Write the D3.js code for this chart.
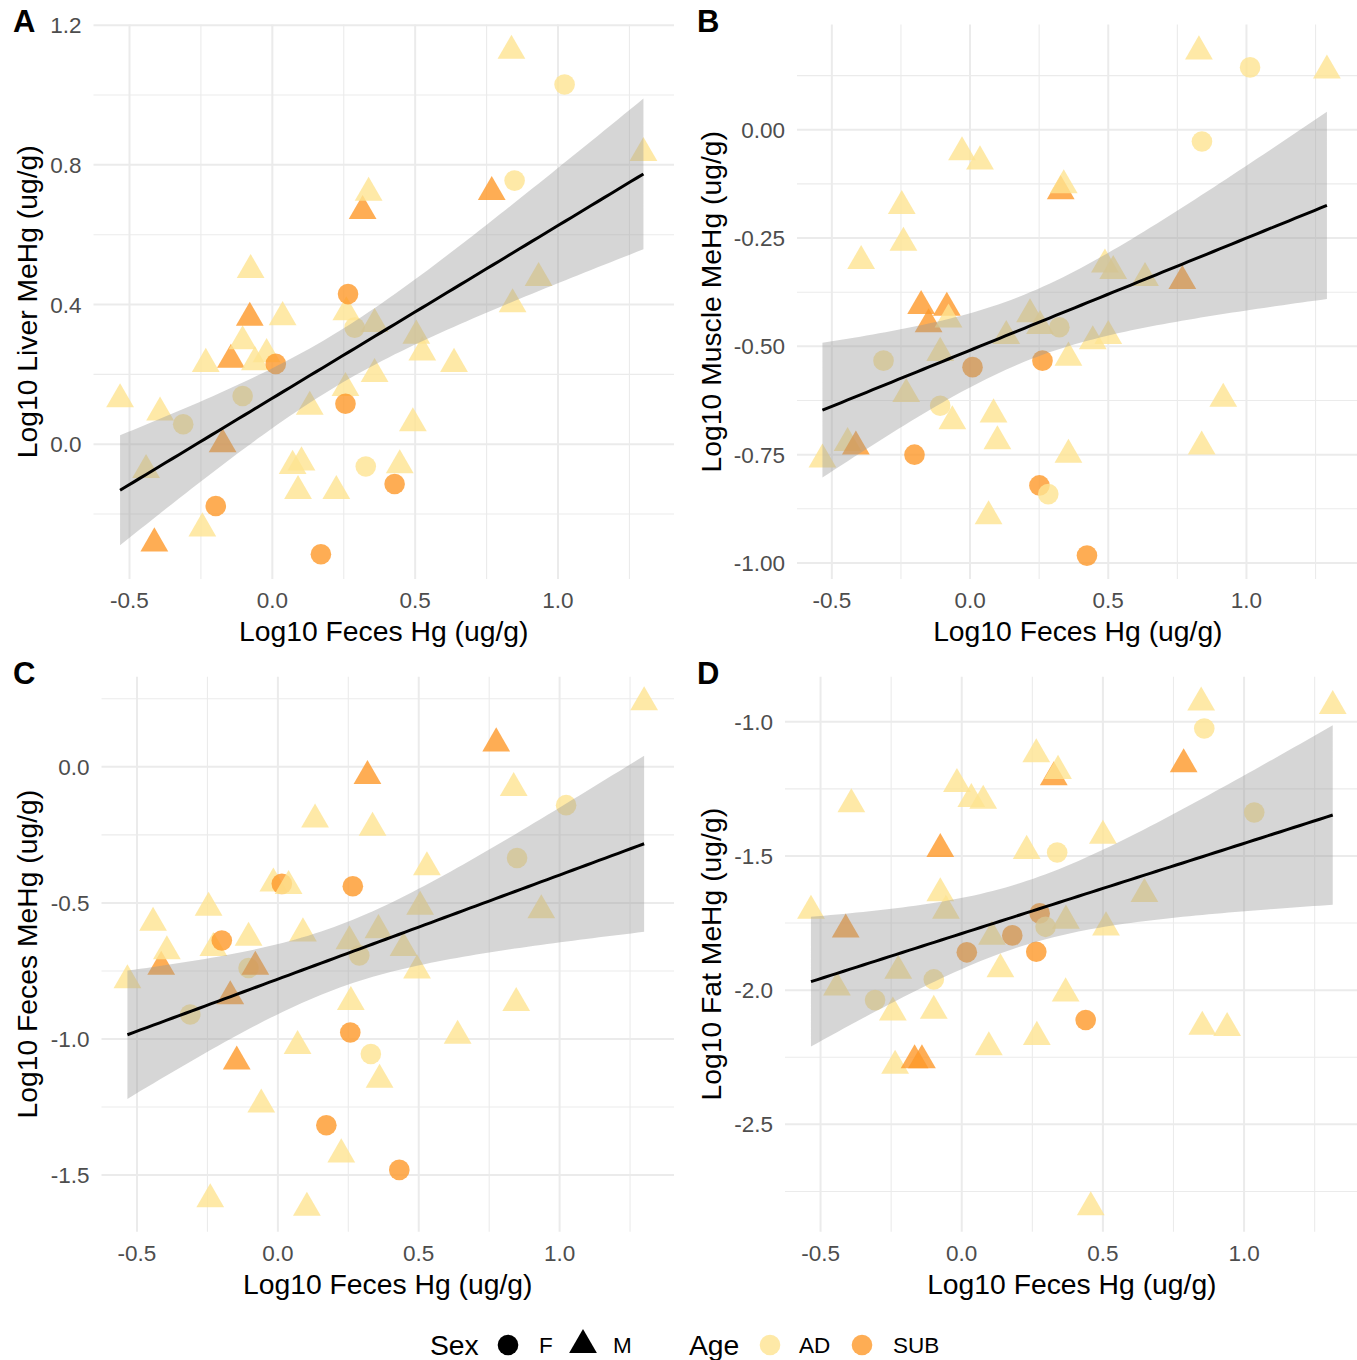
<!DOCTYPE html>
<html>
<head>
<meta charset="utf-8">
<script src="https://cdn.jsdelivr.net/npm/d3@7"></script>
<style>
  html, body { margin: 0; background: #fff; }
  svg { display: block; font-family: "Liberation Sans", Arial, Helvetica, sans-serif; }
</style>
</head>
<body>
<svg id="fig" width="1357" height="1360"></svg>
<script>
// Log10 feces Hg (x) against log10 MeHg in four tissues.
// Sex codes: M / F. Age codes: A = AD, S = SUB.

const xTicks = [-0.5, 0.0, 0.5, 1.0];
const xMinor = [-0.25, 0.25, 0.75, 1.25];

// A · liver
const liverX = [-0.533,-0.442,-0.413,-0.393,-0.312,-0.245,-0.233,-0.198,-0.174,-0.145,-0.104,-0.104,-0.079,-0.076,-0.061,-0.020,0.012,0.036,0.071,0.090,0.102,0.131,0.170,0.224,0.256,0.256,0.259,0.265,0.288,0.316,0.327,0.337,0.358,0.358,0.428,0.446,0.492,0.504,0.525,0.636,0.768,0.837,0.841,0.848,0.932,1.023,1.299];
const liverY = [0.129,-0.074,-0.284,0.091,0.057,-0.241,0.230,-0.177,0.000,0.242,0.295,0.138,0.362,0.499,0.235,0.258,0.230,0.364,-0.062,-0.134,-0.052,0.107,-0.315,-0.134,0.161,0.116,0.378,0.430,0.334,0.668,-0.064,0.720,0.344,0.201,-0.114,-0.060,0.060,0.311,0.263,0.230,0.722,1.127,0.401,0.755,0.476,1.030,0.834];
const liverSex = 'MMMMFMMFMMMFMMMMFMMMMMFMMFMFFMFMMMFMMMMMMMMFMFM';
const liverAge = 'AASAAAASSSAASAAASAAAAASAASASASAAAASAAAAASAAAAAA';

// B · muscle
const muscleX = [-0.534,-0.443,-0.413,-0.394,-0.313,-0.247,-0.241,-0.231,-0.201,-0.177,-0.150,-0.108,-0.108,-0.084,-0.078,-0.064,-0.029,0.009,0.036,0.067,0.085,0.099,0.131,0.217,0.251,0.253,0.262,0.283,0.323,0.328,0.339,0.356,0.356,0.423,0.444,0.488,0.500,0.518,0.633,0.768,0.828,0.838,0.839,0.916,1.013,1.291];
const muscleY = [-0.761,-0.723,-0.731,-0.303,-0.533,-0.176,-0.261,-0.610,-0.750,-0.407,-0.449,-0.515,-0.637,-0.411,-0.438,-0.673,-0.052,-0.548,-0.073,-0.892,-0.657,-0.719,-0.476,-0.426,-0.821,-0.453,-0.533,-0.841,-0.456,-0.142,-0.128,-0.526,-0.750,-0.983,-0.488,-0.311,-0.476,-0.326,-0.342,-0.349,0.181,-0.731,-0.027,-0.621,0.144,0.137];
const muscleSex = 'MMMMFMMMFMMMFMMMMFMMMMMMFMFFFMMMMFMMMMMMMMFMFM';
const muscleAge = 'AASAAAAASSSAASAAASAAAAAASASAASAAASAAAAASAAAAAA';

// C · feces MeHg
const fecesX = [-0.534,-0.443,-0.414,-0.394,-0.311,-0.246,-0.240,-0.229,-0.199,-0.169,-0.146,-0.104,-0.104,-0.080,-0.059,-0.016,0.014,0.038,0.070,0.089,0.103,0.132,0.172,0.225,0.254,0.257,0.259,0.266,0.289,0.318,0.330,0.336,0.357,0.361,0.431,0.446,0.494,0.505,0.529,0.638,0.775,0.837,0.846,0.849,0.935,1.023,1.300];
const fecesY = [-0.784,-0.573,-0.735,-0.678,-0.910,-0.518,-1.589,-0.666,-0.638,-0.843,-1.083,-0.628,-0.739,-0.735,-1.241,-0.429,-0.430,-0.438,-1.026,-0.612,-1.620,-0.194,-1.317,-1.424,-0.641,-0.976,-0.864,-0.439,-0.693,-0.034,-1.055,-0.224,-0.600,-1.150,-1.481,-0.666,-0.748,-0.514,-0.369,-0.988,0.086,-0.078,-0.868,-0.335,-0.527,-0.141,0.237];
const fecesSex = 'MMMMFMMMFMMMFMMMFMMMMMFMMFMFFMFMMMFMMMMMMMMFMFM';
const fecesAge = 'AASAAAAASSSAASAASAAAAASAASASASAAAASAAAAASAAAAAA';

// D · fat
const fatX = [-0.534,-0.442,-0.411,-0.391,-0.307,-0.236,-0.244,-0.225,-0.167,-0.141,-0.099,-0.099,-0.076,-0.076,-0.056,-0.017,0.018,0.034,0.076,0.096,0.107,0.137,0.179,0.230,0.264,0.264,0.266,0.276,0.297,0.326,0.338,0.341,0.368,0.369,0.439,0.457,0.500,0.511,0.647,0.786,0.848,0.852,0.859,0.940,1.036,1.314];
const fatY = [-1.704,-1.990,-1.774,-1.307,-2.037,-2.282,-2.083,-1.928,-2.261,-2.261,-1.960,-2.077,-1.474,-1.639,-1.704,-1.232,-1.859,-1.288,-1.294,-2.213,-1.801,-1.922,-1.796,-1.481,-1.121,-1.857,-2.174,-1.714,-1.764,-1.207,-1.487,-1.183,-2.012,-1.741,-2.111,-2.809,-1.425,-1.766,-1.642,-1.158,-0.928,-2.136,-1.025,-2.141,-1.338,-0.941];
const fatSex = 'MMMMFMMMMMFMMMMMFMMMMMFMMFMFFMFMMMFMMMMMMMFMFM';
const fatAge = 'AASAAAAASSAASAAASAAAAASAASASASAAAASAAAASAAAAAA';

const AGE_COLORS = { A: '#FEE391', S: '#FE9929' };
const POINT_SIZE = 334;
const TICK_FONT = 22.5, TITLE_FONT = 28.3, TAG_FONT = 31;
const X_DOMAIN = [-0.626, 1.406];

const panels = [
  { tag: 'A', title: 'Log10 Liver MeHg (ug/g)', x: liverX, y: liverY, sex: liverSex, age: liverAge,
    left: 93.5, right: 674, top: 24.5, bottom: 579, yDomain: [-0.386, 1.202],
    yTicks: [0.0, 0.4, 0.8, 1.2], yMinor: [-0.2, 0.2, 0.6, 1.0], yFmt: '.1f', titleX: 37, tagX: 13, tagY: 32 },
  { tag: 'B', title: 'Log10 Muscle MeHg (ug/g)', x: muscleX, y: muscleY, sex: muscleSex, age: muscleAge,
    left: 797, right: 1358.7, top: 24.5, bottom: 579, yDomain: [-1.037, 0.243],
    yTicks: [-1.0, -0.75, -0.5, -0.25, 0.0], yMinor: [-0.875, -0.625, -0.375, -0.125, 0.125], yFmt: '.2f', titleX: 721, tagX: 697, tagY: 32 },
  { tag: 'C', title: 'Log10 Feces MeHg (ug/g)', x: fecesX, y: fecesY, sex: fecesSex, age: fecesAge,
    left: 101.5, right: 674, top: 676.7, bottom: 1231.7, yDomain: [-1.708, 0.331],
    yTicks: [-1.5, -1.0, -0.5, 0.0], yMinor: [-1.25, -0.75, -0.25, 0.25], yFmt: '.1f', titleX: 37, tagX: 13, tagY: 684 },
  { tag: 'D', title: 'Log10 Fat MeHg (ug/g)', x: fatX, y: fatY, sex: fatSex, age: fatAge,
    left: 785, right: 1358.7, top: 676.7, bottom: 1231.7, yDomain: [-2.900, -0.832],
    yTicks: [-2.5, -2.0, -1.5, -1.0], yMinor: [-2.75, -2.25, -1.75, -1.25], yFmt: '.1f', titleX: 721, tagX: 697, tagY: 684 }
];

const svg = d3.select('#fig');
const fmt = spec => v => d3.format(spec)(v).replace('\u2212', '-');

// t quantile (0.975) by Cornish-Fisher expansion
function tQuantile(df) {
  const z = 1.959964;
  return z + (z ** 3 + z) / (4 * df) + (5 * z ** 5 + 16 * z ** 3 + 3 * z) / (96 * df * df);
}

// linear fit with 95% confidence band, as geom_smooth(method = 'lm')
function lmBand(xs, ys) {
  const n = xs.length;
  const mx = d3.mean(xs), my = d3.mean(ys);
  let sxx = 0, sxy = 0;
  xs.forEach((x, i) => { sxx += (x - mx) ** 2; sxy += (x - mx) * (ys[i] - my); });
  const b = sxy / sxx, a = my - b * mx;
  let sse = 0;
  xs.forEach((x, i) => { sse += (ys[i] - a - b * x) ** 2; });
  const s = Math.sqrt(sse / (n - 2));
  const t = tQuantile(n - 2);
  const [lo, hi] = d3.extent(xs);
  return d3.range(81).map(k => {
    const x = lo + (hi - lo) * k / 80;
    const fit = a + b * x;
    const se = s * Math.sqrt(1 / n + (x - mx) ** 2 / sxx);
    return { x, fit, lower: fit - t * se, upper: fit + t * se };
  });
}

panels.forEach(p => {
  const xs = d3.scaleLinear().domain(X_DOMAIN).range([p.left, p.right]);
  const ys = d3.scaleLinear().domain(p.yDomain).range([p.bottom, p.top]);
  const g = svg.append('g');

  // grid
  const grid = g.append('g');
  p.yMinor.forEach(v => grid.append('line')
    .attr('x1', p.left).attr('x2', p.right).attr('y1', ys(v)).attr('y2', ys(v))
    .attr('stroke', '#EBEBEB').attr('stroke-width', 1.1));
  xMinor.forEach(v => grid.append('line')
    .attr('x1', xs(v)).attr('x2', xs(v)).attr('y1', p.top).attr('y2', p.bottom)
    .attr('stroke', '#EBEBEB').attr('stroke-width', 1.1));
  p.yTicks.forEach(v => grid.append('line')
    .attr('x1', p.left).attr('x2', p.right).attr('y1', ys(v)).attr('y2', ys(v))
    .attr('stroke', '#EBEBEB').attr('stroke-width', 2));
  xTicks.forEach(v => grid.append('line')
    .attr('x1', xs(v)).attr('x2', xs(v)).attr('y1', p.top).attr('y2', p.bottom)
    .attr('stroke', '#EBEBEB').attr('stroke-width', 2));

  // tick labels
  const yf = fmt(p.yFmt), xf = fmt('.1f');
  p.yTicks.forEach(v => g.append('text')
    .attr('x', p.left - 12).attr('y', ys(v)).attr('dy', '0.36em')
    .attr('text-anchor', 'end').attr('fill', '#4D4D4D').style('font-size', TICK_FONT + 'px')
    .text(yf(v)));
  xTicks.forEach(v => g.append('text')
    .attr('x', xs(v)).attr('y', p.bottom + 29)
    .attr('text-anchor', 'middle').attr('fill', '#4D4D4D').style('font-size', TICK_FONT + 'px')
    .text(xf(v)));

  // axis titles
  g.append('text')
    .attr('x', (p.left + p.right) / 2).attr('y', p.bottom + 62)
    .attr('text-anchor', 'middle').style('font-size', TITLE_FONT + 'px')
    .text('Log10 Feces Hg (ug/g)');
  g.append('text')
    .attr('transform', `translate(${p.titleX},${(p.top + p.bottom) / 2}) rotate(-90)`)
    .attr('text-anchor', 'middle').style('font-size', TITLE_FONT + 'px')
    .text(p.title);

  // tag
  g.append('text')
    .attr('x', p.tagX).attr('y', p.tagY)
    .style('font-size', TAG_FONT + 'px').style('font-weight', 'bold')
    .text(p.tag);

  // points
  const pts = p.x.map((x, i) => ({ x, y: p.y[i], sex: p.sex[i], age: p.age[i] }));
  g.append('g').selectAll('path').data(pts).join('path')
    .attr('transform', d => `translate(${xs(d.x)},${ys(d.y)})`)
    .attr('d', d => d3.symbol().type(d.sex === 'M' ? d3.symbolTriangle : d3.symbolCircle).size(POINT_SIZE)())
    .attr('fill', d => AGE_COLORS[d.age]).attr('fill-opacity', 0.8);

  // smooth
  const band = lmBand(p.x, p.y);
  g.append('path').datum(band)
    .attr('d', d3.area().x(d => xs(d.x)).y0(d => ys(d.lower)).y1(d => ys(d.upper)))
    .attr('fill', '#999999').attr('fill-opacity', 0.4);
  g.append('path').datum(band)
    .attr('d', d3.line().x(d => xs(d.x)).y(d => ys(d.fit)))
    .attr('fill', 'none').attr('stroke', '#000').attr('stroke-width', 3);
});

// legend
const leg = svg.append('g');
const LEG_Y = 1345;
leg.append('text').attr('x', 430).attr('y', LEG_Y + 10).style('font-size', TITLE_FONT + 'px').text('Sex');
leg.append('path').attr('transform', `translate(508,${LEG_Y})`)
  .attr('d', d3.symbol().type(d3.symbolCircle).size(POINT_SIZE)()).attr('fill', '#000');
leg.append('text').attr('x', 539).attr('y', LEG_Y + 8).style('font-size', TICK_FONT + 'px').text('F');
leg.append('path').attr('transform', `translate(583,${LEG_Y})`)
  .attr('d', d3.symbol().type(d3.symbolTriangle).size(POINT_SIZE)()).attr('fill', '#000');
leg.append('text').attr('x', 613).attr('y', LEG_Y + 8).style('font-size', TICK_FONT + 'px').text('M');
leg.append('text').attr('x', 689).attr('y', LEG_Y + 10).style('font-size', TITLE_FONT + 'px').text('Age');
leg.append('path').attr('transform', `translate(770,${LEG_Y})`)
  .attr('d', d3.symbol().type(d3.symbolCircle).size(POINT_SIZE)())
  .attr('fill', AGE_COLORS.A).attr('fill-opacity', 0.8);
leg.append('text').attr('x', 799).attr('y', LEG_Y + 8).style('font-size', TICK_FONT + 'px').text('AD');
leg.append('path').attr('transform', `translate(862,${LEG_Y})`)
  .attr('d', d3.symbol().type(d3.symbolCircle).size(POINT_SIZE)())
  .attr('fill', AGE_COLORS.S).attr('fill-opacity', 0.8);
leg.append('text').attr('x', 893).attr('y', LEG_Y + 8).style('font-size', TICK_FONT + 'px').text('SUB');
</script>
</body>
</html>
